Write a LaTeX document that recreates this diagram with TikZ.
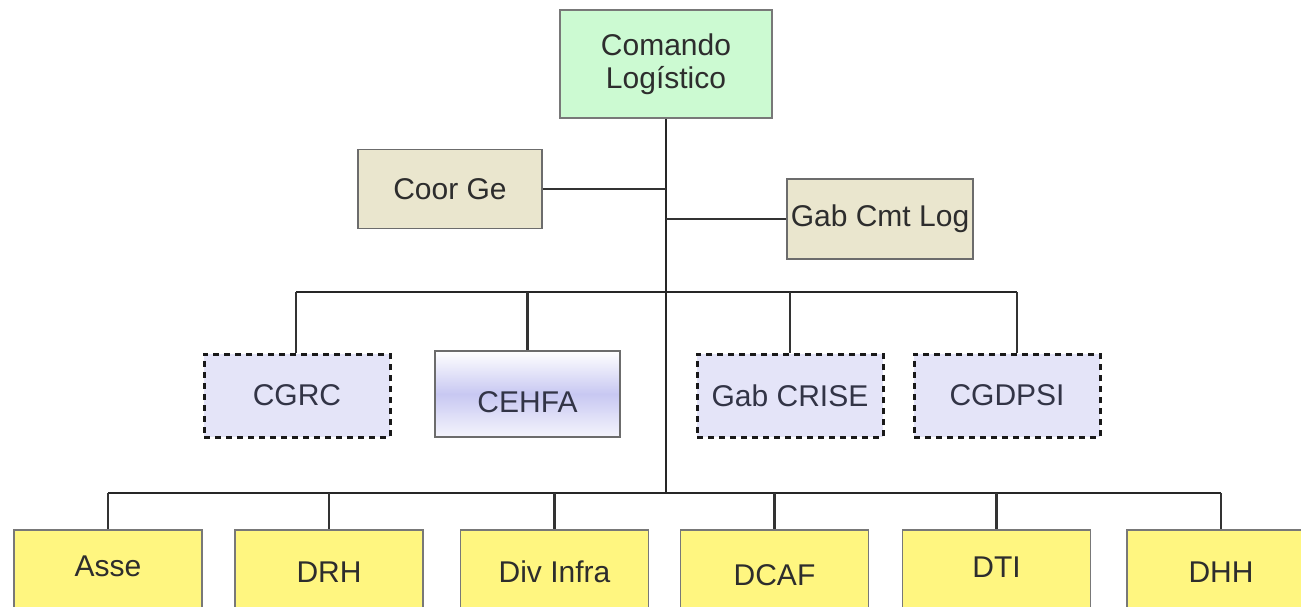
\documentclass[tikz,border=0pt]{standalone}
\usepackage{fontspec}
\setmainfont{Liberation Sans}
\definecolor{cmdfill}{RGB}{204,250,210}
\definecolor{tanfill}{RGB}{234,230,206}
\definecolor{lavfill}{RGB}{228,228,248}
\definecolor{lavdeep}{RGB}{200,200,242}
\definecolor{yelfill}{RGB}{255,246,128}
\definecolor{edge}{RGB}{120,120,120}
\definecolor{ink}{RGB}{45,45,45}
\definecolor{ink2}{RGB}{50,52,70}
\tikzset{
  unit/.style={inner sep=0pt, align=center, text=ink,
    font=\fontsize{30}{33}\selectfont},
  cmdbox/.style={unit, draw=edge, line width=1.4pt, fill=cmdfill,
    minimum width=212pt, minimum height=108pt},
  staffbox/.style={unit, draw=edge!90!black, line width=1.4pt, fill=tanfill,
    minimum width=184pt, minimum height=79pt},
  dashbox/.style={unit, text=ink2, draw=black!90, line width=3pt,
    dash pattern=on 6pt off 5pt, fill=lavfill,
    minimum width=186pt, minimum height=83pt},
  gradbox/.style={unit, text=ink2, draw=edge!90!black, line width=1.4pt,
    top color=white, bottom color=lavfill!40!white, middle color=lavdeep,
    minimum width=185pt, minimum height=86pt},
  dirbox/.style={unit, draw=edge, line width=1.4pt, fill=yelfill,
    minimum width=188pt, minimum height=84pt},
  tag/.style={unit, text=#1},
  tag/.default=ink,
  bus/.style={draw=black!85, line width=2.8pt},
  link/.style={draw=black!80, line width=2.2pt},
}
\begin{document}
\begin{tikzpicture}[x=1pt,y=-1pt]
\clip (0,0) rectangle (1301,607);
\fill[white] (0,0) rectangle (1301,607);

% top command
\node[cmdbox] (cmd) at (666,64) {Comando\\Logístico};

% staff offices
\node[staffbox] (coor) at (450,189) {Coor Ge};
\node[staffbox, minimum width=186pt, minimum height=80pt] (gab) at (880,219) {Gab Cmt Log};

% special committees
\node[dashbox] (cgrc) at (297,395.5) {CGRC};
\node[gradbox, label={[tag=ink2, yshift=-8pt]center:CEHFA}] (cehfa) at (527.5,394) {};
\node[dashbox] (crise) at (790,395.5) {Gab CRISE};
\node[dashbox] (cgdpsi) at (1007,395.5) {CGDPSI};

% directorates
\node[dirbox, label={[tag, yshift=6pt]center:Asse}] (asse) at (108,572) {};
\node[dirbox] (drh) at (329,572) {DRH};
\node[dirbox] (infra) at (554.5,572) {Div Infra};
\node[dirbox, label={[tag, yshift=-3pt]center:DCAF}] (dcaf) at (774.5,572) {};
\node[dirbox, label={[tag, yshift=5pt]center:DTI}] (dti) at (996.5,572) {};
\node[dirbox] (dhh) at (1221,572) {DHH};

% bus end points
\coordinate (b1L) at (296,292);
\coordinate (b1R) at (1017,292);
\coordinate (b2L) at (108,493);
\coordinate (b2R) at (1221,493);

% trunk and buses
\draw[bus] (cmd.south) -- (cmd.south |- b2L);
\draw[bus] (b1L) -- (b1R);
\draw[bus] (b2L) -- (b2R);

% staff links
\draw[link] (coor.east) -- (coor.east -| cmd.south);
\draw[link] (gab.west -| cmd.south) -- (gab.west);

% committee drops
\draw[link] (b1L) -- (b1L |- cgrc.north);
\draw[link] (cehfa.north |- b1L) -- (cehfa.north);
\draw[link] (crise.north |- b1L) -- (crise.north);
\draw[link] (b1R) -- (b1R |- cgdpsi.north);

% directorate drops
\draw[link] (b2L) -- (asse.north);
\draw[link] (drh.north |- b2L) -- (drh.north);
\draw[link] (infra.north |- b2L) -- (infra.north);
\draw[link] (dcaf.north |- b2L) -- (dcaf.north);
\draw[link] (dti.north |- b2L) -- (dti.north);
\draw[link] (b2R) -- (dhh.north);
\end{tikzpicture}
\end{document}
